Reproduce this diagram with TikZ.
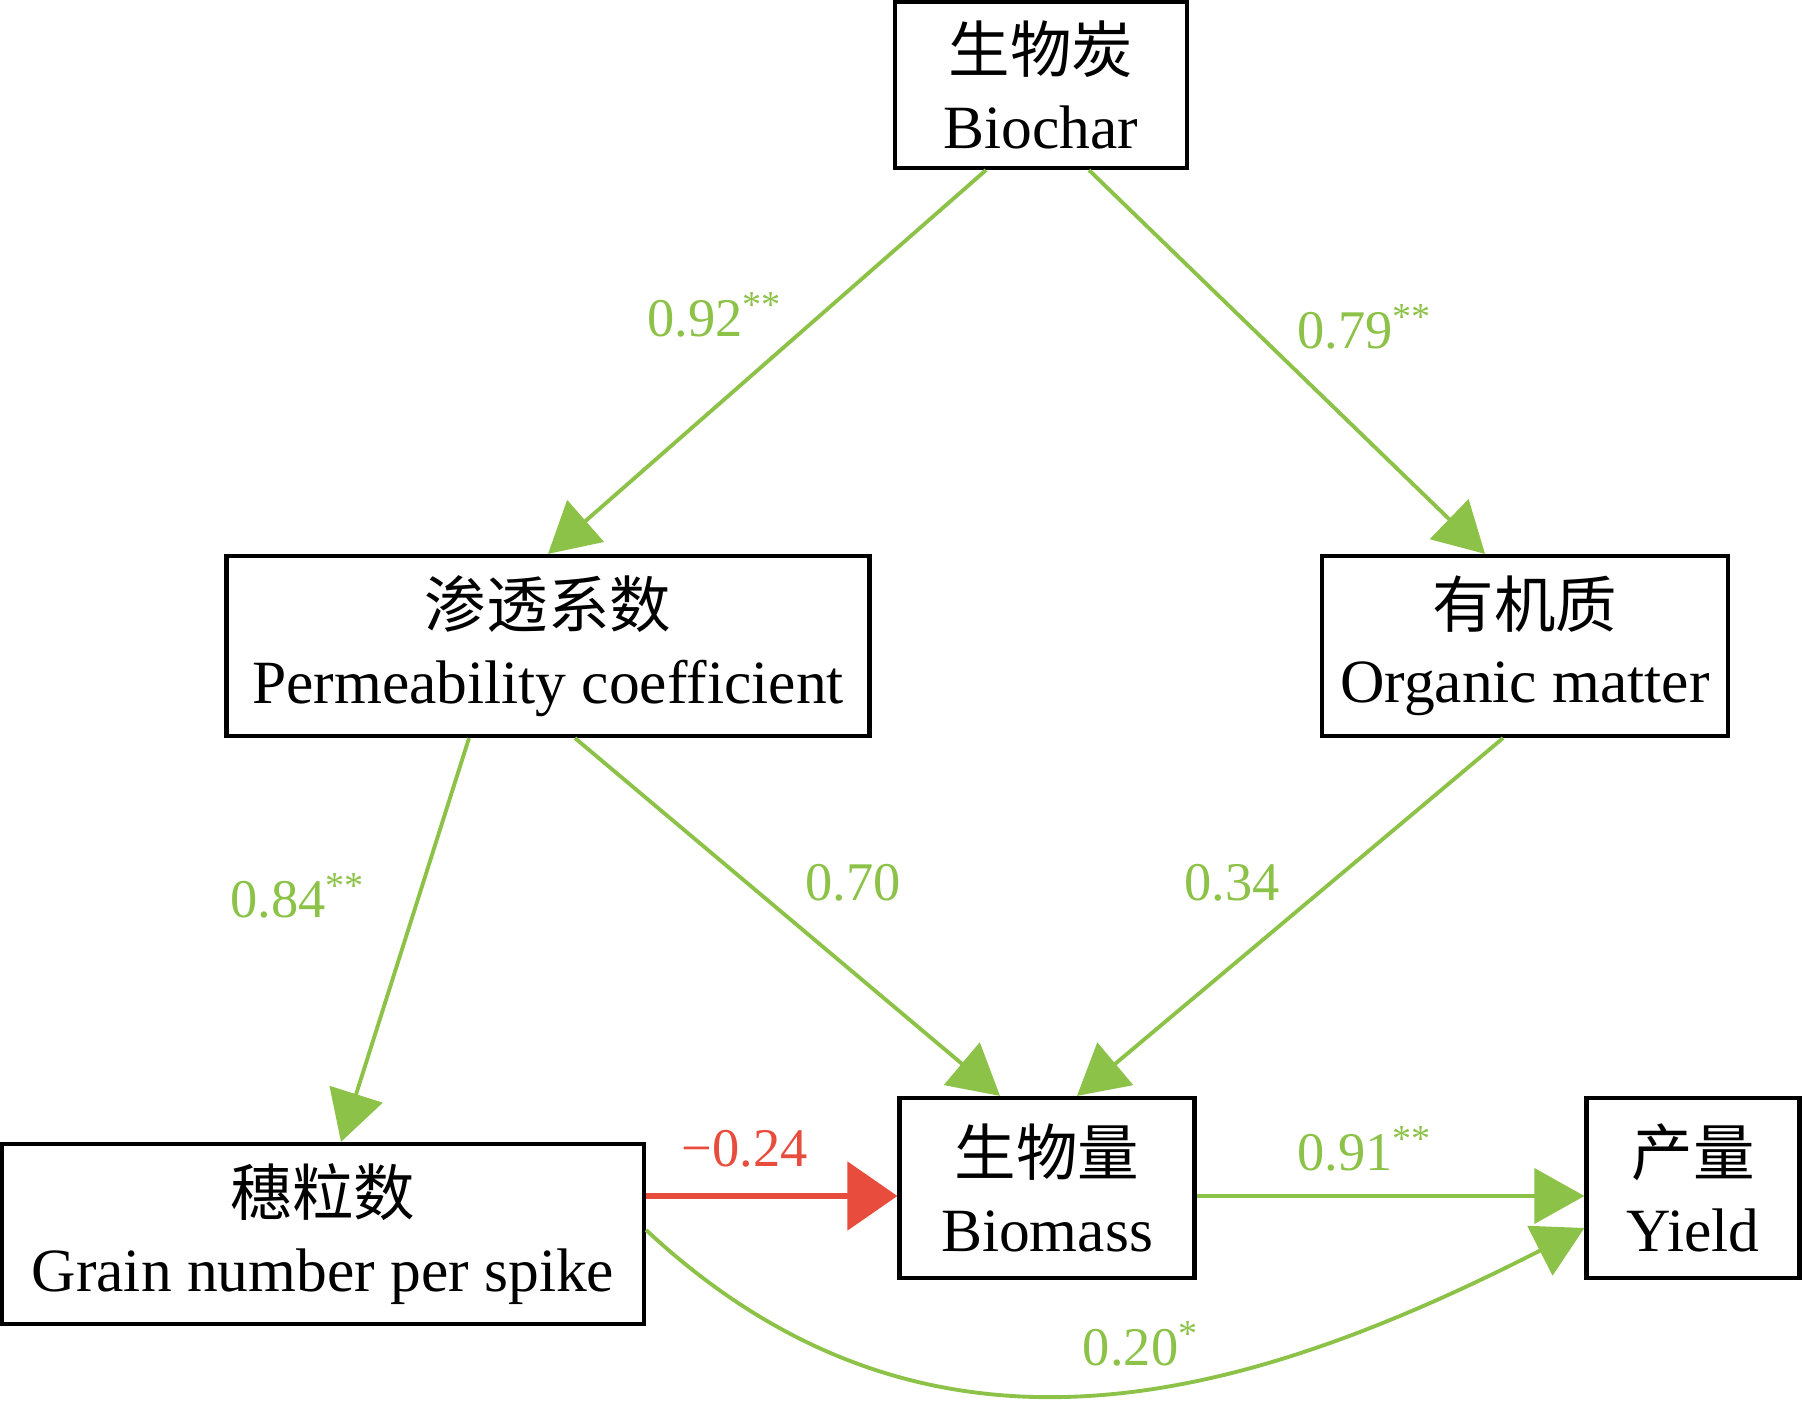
\documentclass[tikz,border=0pt]{standalone}
\usepackage{fontspec}
\setmainfont{Liberation Serif}
\newfontfamily\cjk{Noto Sans CJK SC}
\usetikzlibrary{arrows.meta}
\definecolor{pathgreen}{RGB}{141,194,73}
\definecolor{pathred}{RGB}{232,76,61}
\tikzset{
  var/.style={draw=black, line width=1.2pt, align=center, inner sep=0pt,
    minimum height=1.8cm, font=\fontsize{17.5}{21.5}\selectfont},
  posarrow/.style={draw=pathgreen, line width=1.1pt, -{Triangle[length=0.5cm,width=0.55cm]}},
  negarrow/.style={draw=pathred, line width=1.5pt, -{Triangle[length=0.5cm,width=0.68cm]}},
  coef/.style={font=\fontsize{15.5}{18}\selectfont, text=pathgreen},
}
\begin{document}
\begin{tikzpicture}
    \useasboundingbox (0, 0) rectangle (18.02, 14);
    \node[var, minimum width=2.92cm, minimum height=1.66cm] (char) at (10.41, 13.15) {{\cjk 生物炭}\\Biochar};
    \node[var, minimum width=6.43cm] (perm) at (5.48, 7.54) {{\cjk 渗透系数}\\Permeability coefficient};
    \node[var, minimum width=4.06cm] (org) at (15.25, 7.54) {{\cjk 有机质}\\Organic matter};
    \node[var, minimum width=6.42cm] (grain) at (3.23, 1.66) {{\cjk 穗粒数}\\Grain number per spike};
    \node[var, minimum width=2.95cm] (mass) at (10.47, 2.12) {{\cjk 生物量}\\Biomass};
    \node[var, minimum width=2.13cm] (yield) at (16.93, 2.12) {{\cjk 产量}\\Yield};
    \coordinate (massin) at ([yshift=-0.08cm]mass.west);
    \coordinate (massout) at ([yshift=-0.08cm]mass.east);
    \coordinate (yieldin) at ([yshift=-0.08cm]yield.west);

    \draw[posarrow] ([xshift=-0.55cm]char.south) -- (perm.north);
    \draw[posarrow] ([xshift=0.48cm]char.south) -- ([xshift=-0.4cm]org.north);
    \draw[posarrow] ([xshift=-0.79cm]perm.south) -- ([xshift=0.18cm]grain.north);
    \draw[posarrow] ([xshift=0.27cm]perm.south) -- ([xshift=-0.47cm]mass.north);
    \draw[posarrow] ([xshift=-0.22cm]org.south) -- ([xshift=0.3cm]mass.north);
    \draw[negarrow] (grain.east |- massin) -- (massin);
    \draw[posarrow] (massout) -- (yieldin);
    \draw[posarrow] ([yshift=0.04cm]grain.east) to[out=-43, in=207, looseness=1.05] ([yshift=-0.4cm]yield.west);

    \node[coef] (c1) at (7.15, 10.85) {0.92\textsuperscript{**}};
    \node[coef] (c2) at (13.65, 10.73) {0.79\textsuperscript{**}};
    \node[coef] (c3) at (2.98, 5.04) {0.84\textsuperscript{**}};
    \node[coef] (c4) at (8.53, 5.17) {0.70};
    \node[coef] (c5) at (12.32, 5.17) {0.34};
    \node[coef, text=pathred] (c6) at (7.45, 2.51) {−0.24};
    \node[coef] (c7) at (13.65, 2.51) {0.91\textsuperscript{**}};
    \node[coef] (c8) at (11.41, 0.56) {0.20\textsuperscript{*}};
\end{tikzpicture}
\end{document}
